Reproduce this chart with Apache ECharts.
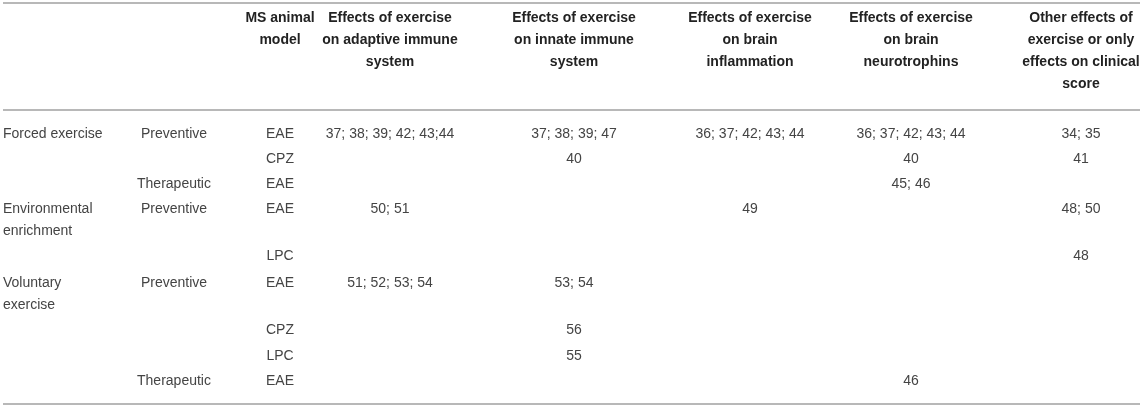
<!DOCTYPE html>
<html><head><meta charset="utf-8">
<script src="https://cdn.jsdelivr.net/npm/echarts@6/dist/echarts.min.js"></script>
<style>html,body{margin:0;padding:0;background:#fff}#c{width:1143px;height:408px}</style>
</head><body><div id="c"></div>
<script>
// ---- table content ----
const headers = ['', '', 'MS animal\nmodel', 'Effects of exercise\non adaptive immune\nsystem', 'Effects of exercise\non innate immune\nsystem', 'Effects of exercise\non brain\ninflammation', 'Effects of exercise\non brain\nneurotrophins', 'Other effects of\nexercise or only\neffects on clinical\nscore'];
const intervention = ['Forced exercise', '', '', 'Environmental\nenrichment', '', 'Voluntary\nexercise', '', '', ''];
const timing = ['Preventive', '', 'Therapeutic', 'Preventive', '', 'Preventive', '', '', 'Therapeutic'];
const model = ['EAE', 'CPZ', 'EAE', 'EAE', 'LPC', 'EAE', 'CPZ', 'LPC', 'EAE'];
const adaptive = ['37; 38; 39; 42; 43;44', '', '', '50; 51', '', '51; 52; 53; 54', '', '', ''];
const innate = ['37; 38; 39; 47', '40', '', '', '', '53; 54', '56', '55', ''];
const inflammation = ['36; 37; 42; 43; 44', '', '', '49', '', '', '', '', ''];
const neurotrophins = ['36; 37; 42; 43; 44', '40', '45; 46', '', '', '', '', '', '46'];
const other = ['34; 35', '41', '', '48; 50', '48', '', '', '', ''];

// ---- layout (positions, not data) ----
const colX = [3, 174, 280, 390, 574, 750, 911, 1081];
const colAlign = ['left', 'center', 'center', 'center', 'center', 'center', 'center', 'center'];
const rowY = [134, 159, 184, 209, 256, 283, 330, 356, 381];
const headerY = 18;
const ruleY = [3, 110, 404];
const LH = 22;

const columns = [intervention, timing, model, adaptive, innate, inflammation, neurotrophins, other];
const cells = [];
headers.forEach((t, c) => { if (t) cells.push({ x: colX[c], y: headerY, text: t, align: colAlign[c], head: true }); });
columns.forEach((col, c) => col.forEach((t, r) => { if (t) cells.push({ x: colX[c], y: rowY[r], text: t, align: colAlign[c], head: false }); }));

const chart = echarts.init(document.getElementById('c'), null, { renderer: 'canvas' });
chart.setOption({
  animation: false,
  backgroundColor: '#fff',
  grid: { left: 0, right: 0, top: 0, bottom: 0 },
  xAxis: { type: 'value', min: 0, max: 1143, show: false },
  yAxis: { type: 'value', min: 0, max: 408, inverse: true, show: false },
  series: [
    {
      type: 'custom',
      data: ruleY.map(y => [0, y]),
      renderItem: (params, api) => {
        const y = api.value(1);
        const p1 = api.coord([3, y]);
        const p2 = api.coord([1140, y]);
        return { type: 'line', shape: { x1: p1[0], y1: p1[1], x2: p2[0], y2: p2[1] }, style: { stroke: '#b8b8b8', lineWidth: 2 } };
      }
    },
    {
      type: 'custom',
      data: cells.map(c => [c.x, c.y]),
      renderItem: (params, api) => {
        const cell = cells[params.dataIndex];
        const p = api.coord([api.value(0), api.value(1)]);
        return {
          type: 'text',
          style: {
            x: p[0], y: p[1] - LH / 2,
            text: cell.text,
            fill: cell.head ? '#222' : '#444',
            font: (cell.head ? 'bold ' : '') + '14px "Liberation Sans", Arial, sans-serif',
            align: cell.align,
            verticalAlign: 'top',
            lineHeight: LH
          }
        };
      }
    }
  ]
});
</script>
</body></html>
